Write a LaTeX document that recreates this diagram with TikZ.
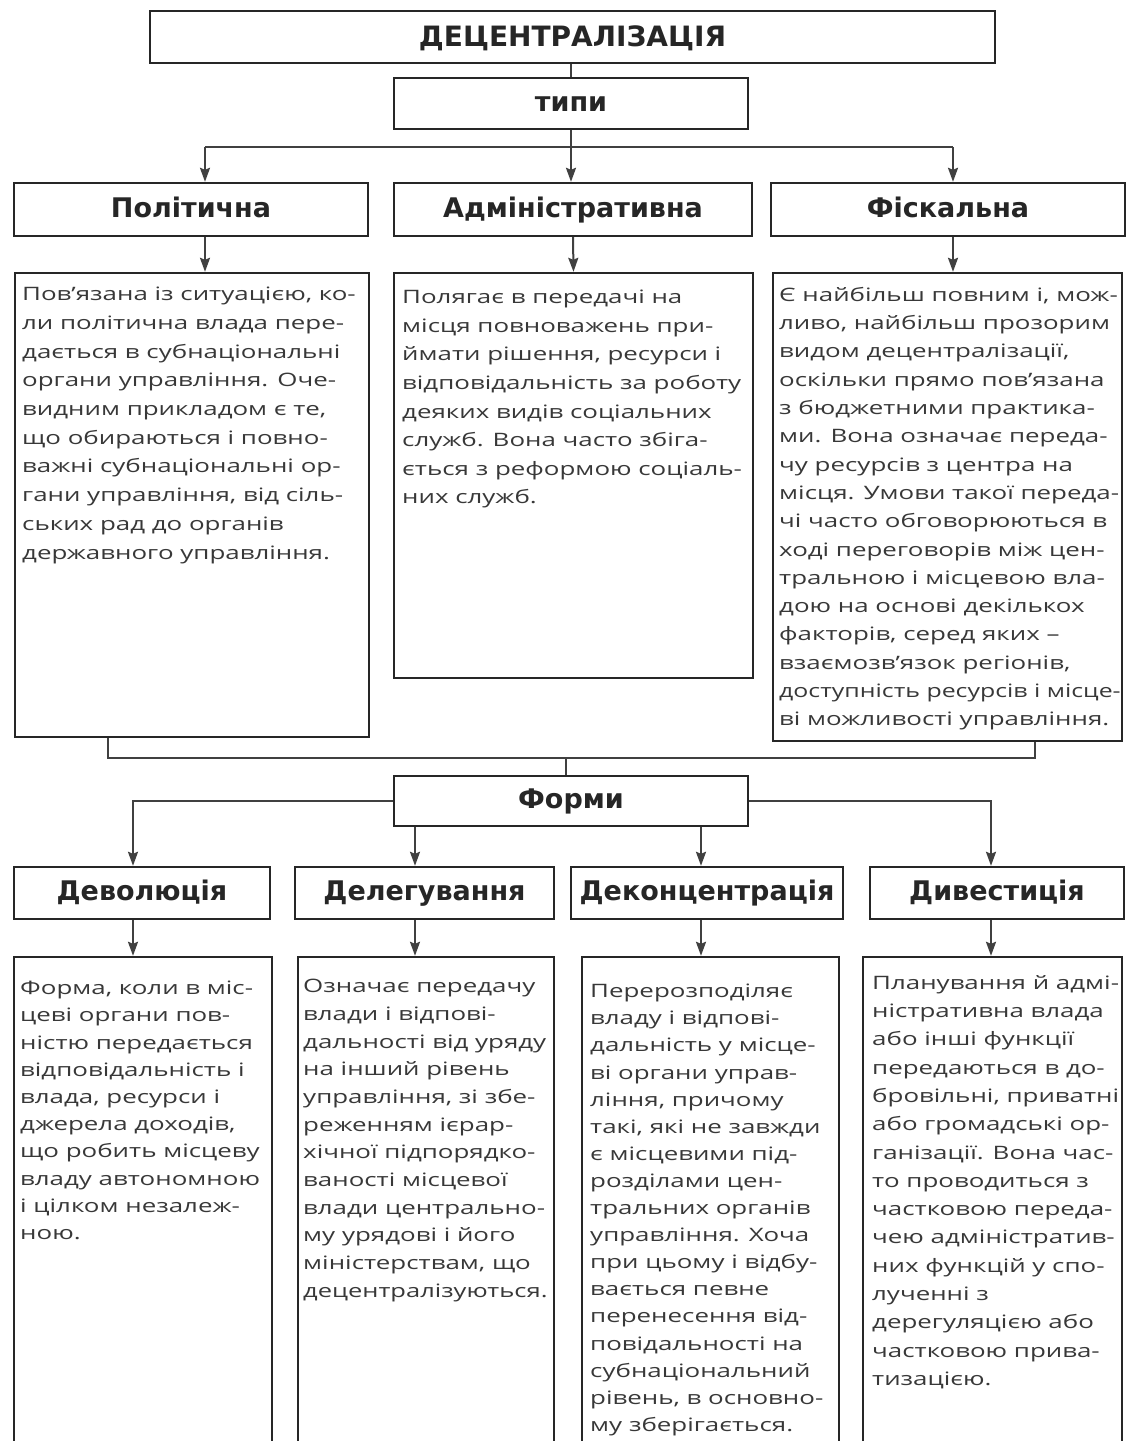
\documentclass[tikz,border=0pt]{standalone}
\usepackage{fontspec}
\usepackage{graphicx}
\setmainfont{DejaVu Sans}
\newfontfamily\bodyfont[FakeStretch=1.4]{Open Sans}
\newfontfamily\headfont{DejaVu Sans}
\usetikzlibrary{arrows.meta}
\begin{document}
\begin{tikzpicture}[x=1pt,y=-1pt,
  box/.style={draw=black!85, line width=2.4pt, inner sep=0pt},
  head/.style={font=\headfont\bfseries\fontsize{27}{30}\selectfont, text=black!85, text height=20pt, text depth=5pt},
  title/.style={font=\headfont\bfseries\fontsize{28}{30}\selectfont, text=black!85, text height=20pt, text depth=2pt},
  body/.style={font=\bodyfont\fontsize{18.5}{28.5}\selectfont, text=black!78, align=left, anchor=north west, inner sep=0pt},
  conn/.style={draw=black!75, line width=2pt},
  arr/.style={conn, -{Stealth[length=14pt,width=10pt,inset=2pt]}}]
\useasboundingbox (0,0) rectangle (1128,1441);
\fill[white] (0,0) rectangle (1128,1441);
\clip (0,0) rectangle (1128,1441);

% top
\node[box, title, minimum width=845pt, minimum height=52pt] (title) at (572.5,37) {ДЕЦЕНТРАЛІЗАЦІЯ};
\node[box, head, minimum width=354pt, minimum height=51pt] (typi) at (571,103.5) {типи};

% types
\node[box, head, minimum width=354pt, minimum height=53pt] (pol) at (191,209.5) {Політична};
\node[box, head, minimum width=358pt, minimum height=53pt] (adm) at (573,209.5) {Адміністративна};
\node[box, head, minimum width=354pt, minimum height=53pt] (fis) at (948,209.5) {Фіскальна};

\node[box, minimum width=354pt, minimum height=464pt] (polB) at (192,505) {};
\node[box, minimum width=359pt, minimum height=405pt] (admB) at (573.5,475.5) {};
\node[box, minimum width=349pt, minimum height=468pt] (fisB) at (947.5,507) {};

\node[body, font=\bodyfont\fontsize{18.5}{28.7}\selectfont] (polT) at (22,287) {Пов’язана із ситуацією, ко-\\ли політична влада пере-\\дається в субнаціональні\\органи управління. Оче-\\видним прикладом є те,\\що обираються і повно-\\важні субнаціональні ор-\\гани управління, від сіль-\\ських рад до органів\\державного управління.};
\node[body, font=\bodyfont\fontsize{18.5}{28.6}\selectfont] (admT) at (402,290) {Полягає в передачі на\\місця повноважень при-\\ймати рішення, ресурси і\\відповідальність за роботу\\деяких видів соціальних\\служб. Вона часто збіга-\\ється з реформою соціаль-\\них служб.};
\node[body, font=\bodyfont\fontsize{18.5}{28.3}\selectfont] (fisT) at (779,287) {Є найбільш повним і, мож-\\ливо, найбільш прозорим\\видом децентралізації,\\оскільки прямо пов’язана\\з бюджетними практика-\\ми. Вона означає переда-\\чу ресурсів з центра на\\місця. Умови такої переда-\\чі часто обговорюються в\\ході переговорів між цен-\\тральною і місцевою вла-\\дою на основі декількох\\факторів, серед яких –\\взаємозв’язок регіонів,\\\scalebox{0.96}[1]{доступність ресурсів і місце-}\\ві можливості управління.};

% forms
\node[box, head, minimum width=354pt, minimum height=50pt] (forms) at (571,801) {Форми};

\node[box, head, minimum width=256pt, minimum height=52pt] (dev) at (142,893) {Деволюція};
\node[box, head, minimum width=259pt, minimum height=52pt] (del) at (424.5,893) {Делегування};
\node[box, head, minimum width=272pt, minimum height=52pt] (dek) at (707,893) {Деконцентрація};
\node[box, head, minimum width=254pt, minimum height=52pt] (div) at (997,893) {Дивестиція};

\node[box, minimum width=258pt, minimum height=523pt] (devB) at (143,1218.5) {};
\node[box, minimum width=256pt, minimum height=523pt] (delB) at (426,1218.5) {};
\node[box, minimum width=257pt, minimum height=523pt] (dekB) at (710.5,1218.5) {};
\node[box, minimum width=259pt, minimum height=523pt] (divB) at (992.5,1218.5) {};

\node[body, font=\bodyfont\fontsize{18.5}{27.2}\selectfont] (devT) at (20,981) {Форма, коли в міс-\\цеві органи пов-\\ністю передається\\відповідальність і\\влада, ресурси і\\джерела доходів,\\що робить місцеву\\владу автономною\\і цілком незалеж-\\ною.};
\node[body, font=\bodyfont\fontsize{18.5}{27.7}\selectfont] (delT) at (303,979) {Означає передачу\\влади і відпові-\\дальності від уряду\\на інший рівень\\управління, зі збе-\\реженням ієрар-\\хічної підпорядко-\\ваності місцевої\\влади центрально-\\му урядові і його\\міністерствам, що\\\scalebox{0.985}[1]{децентралізуються.}};
\node[body, font=\bodyfont\fontsize{18.5}{27.1}\selectfont] (dekT) at (590,984) {Перерозподіляє\\владу і відпові-\\дальність у місце-\\ві органи управ-\\ління, причому\\такі, які не завжди\\є місцевими під-\\розділами цен-\\тральних органів\\управління. Хоча\\при цьому і відбу-\\вається певне\\перенесення від-\\повідальності на\\субнаціональний\\рівень, в основно-\\му зберігається.};
\node[body, font=\bodyfont\fontsize{18.5}{28.3}\selectfont] (divT) at (872,975) {Планування й адмі-\\ністративна влада\\або інші функції\\передаються в до-\\бровільні, приватні\\або громадські ор-\\ганізації. Вона час-\\то проводиться з\\частковою переда-\\чею адміністратив-\\них функцій у спо-\\лученні з\\дерегуляцією або\\частковою прива-\\тизацією.};

% connectors: top part
\draw[conn] (typi.north |- title.south) -- (typi.north);
\coordinate (ta) at (205,147);
\coordinate (tb) at (953,147);
\draw[conn] (ta) -- (tb);
\draw[arr] (typi.south) -- (typi.south |- adm.north);
\draw[arr] (ta) -- (ta |- pol.north);
\draw[arr] (tb) -- (tb |- fis.north);
\draw[arr] (pol.south -| ta) -- (polB.north -| ta);
\draw[arr] (adm.south) -- (admB.north);
\draw[arr] (fis.south -| tb) -- (fisB.north -| tb);

% connectors: to forms
\coordinate (la) at (108,758);
\coordinate (lb) at (1035,758);
\coordinate (lm) at (566,758);
\draw[conn] (polB.south -| la) -- (la) -- (lb) -- (fisB.south -| lb);
\draw[conn] (lm) -- (lm |- forms.north);

% connectors: forms
\coordinate (fa) at (133,801);
\coordinate (fd) at (991,801);
\coordinate (fbx) at (415,801);
\coordinate (fcx) at (701,801);
\draw[arr] (forms.west) -- (fa) -- (fa |- dev.north);
\draw[arr] (forms.east) -- (fd) -- (fd |- div.north);
\draw[arr] (forms.south -| fbx) -- (fbx |- del.north);
\draw[arr] (forms.south -| fcx) -- (fcx |- dek.north);
\draw[arr] (dev.south -| fa) -- (devB.north -| fa);
\draw[arr] (del.south -| fbx) -- (delB.north -| fbx);
\draw[arr] (dek.south -| fcx) -- (dekB.north -| fcx);
\draw[arr] (div.south -| fd) -- (divB.north -| fd);
\end{tikzpicture}
\end{document}
